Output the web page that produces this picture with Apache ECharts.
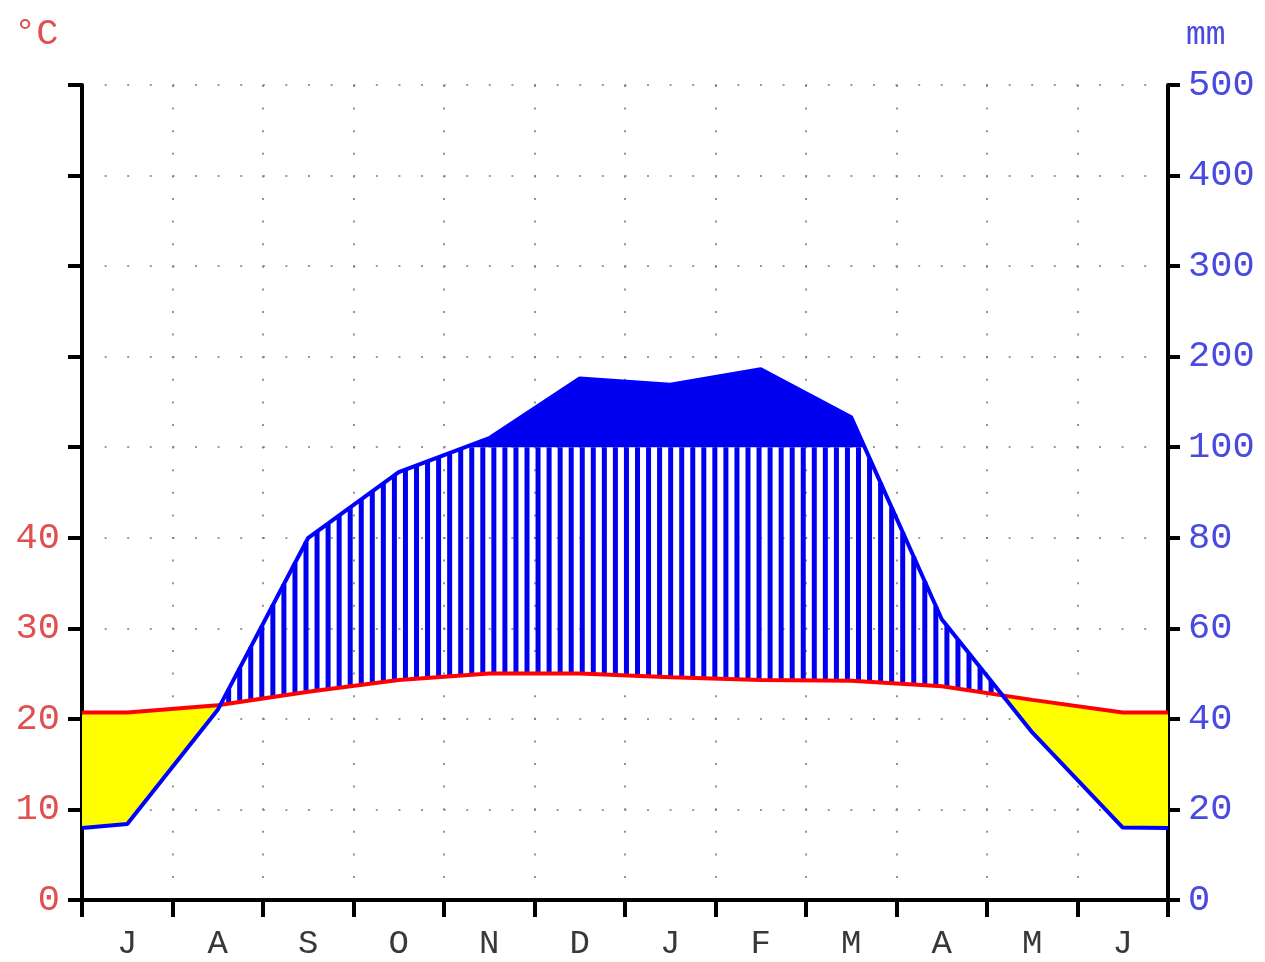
<!DOCTYPE html>
<html>
<head>
<meta charset="utf-8">
<script src="https://cdn.jsdelivr.net/npm/echarts@6/dist/echarts.min.js"></script>
<style>
html,body{margin:0;padding:0;background:#fff;}
#chart{width:1265px;height:962px;}
</style>
</head>
<body>
<div id="chart"></div>
<script>
// ---- data ----
const months = ['J','A','S','O','N','D','J','F','M','A','M','J'];
const temperature = [20.7, 21.5, 23.0, 24.3, 25.0, 25.0, 24.6, 24.3, 24.2, 23.6, 22.1, 20.7];
const precipitation = [16.8, 42, 80, 94.5, 110, 176, 169, 186, 133, 62, 37, 16];
const edgeTemperature = [20.7, 20.7];     // value at left and right border
const edgePrecipitation = [15.9, 15.9];   // value at left and right border
const tempTicks = [0, 10, 20, 30, 40];
const precipTicks = [0, 20, 40, 60, 80, 100, 200, 300, 400, 500];

// scale: 10 °C = 20 mm per grid unit up to 100 mm, then 100 mm per unit
function mmToUnit(p) { return p <= 100 ? p / 20 : 5 + (p - 100) / 100; }

const xPos = [0].concat(months.map((m, i) => i + 0.5), [12]);
const tAll = [edgeTemperature[0]].concat(temperature, [edgeTemperature[1]]);
const pAll = [edgePrecipitation[0]].concat(precipitation, [edgePrecipitation[1]]);
const tempSeries = xPos.map((x, i) => [x, tAll[i] / 10]);
const precSeries = xPos.map((x, i) => [x, mmToUnit(pAll[i])]);

function interp(pts, x) {
  for (let i = 0; i < pts.length - 1; i++) {
    const a = pts[i], b = pts[i + 1];
    if (x >= a[0] && x <= b[0]) {
      const f = b[0] === a[0] ? 0 : (x - a[0]) / (b[0] - a[0]);
      return a[1] + f * (b[1] - a[1]);
    }
  }
  return pts[pts.length - 1][1];
}

function renderFills(params, api) {
  const tp = tempSeries.map(d => api.coord(d));
  const pp = precSeries.map(d => api.coord(d));
  const y100 = api.coord([0, mmToUnit(100)])[1];
  const x0 = tp[0][0], x1 = tp[tp.length - 1][0];
  const children = [];
  function region(test, topFn, botFn, color) {
    let cur = null;
    const flush = () => {
      if (cur && cur.top.length > 1) {
        const pts = cur.top.concat(cur.bot.slice().reverse());
        children.push({type: 'polygon', shape: {points: pts}, style: {fill: color, stroke: null}});
      }
      cur = null;
    };
    for (let x = x0; ; x += 1) {
      const xx = Math.min(x, x1);
      const ry = interp(tp, xx), by = interp(pp, xx);
      if (test(ry, by)) {
        if (!cur) cur = {top: [], bot: []};
        cur.top.push([xx, topFn(ry, by)]);
        cur.bot.push([xx, botFn(ry, by)]);
      } else flush();
      if (xx >= x1) break;
    }
    flush();
  }
  // arid period (temperature above precipitation)
  region((ry, by) => by > ry, (ry, by) => ry, (ry, by) => by, '#ffff00');
  // very wet (> 100 mm)
  region((ry, by) => by < y100, (ry, by) => by, (ry, by) => y100, '#0000ee');
  // humid hatching
  for (let x = x0 + 3; x < x1; x += 11.05) {
    const ry = interp(tp, x), by = interp(pp, x);
    if (by < ry) {
      children.push({type: 'line', shape: {x1: x, y1: ry, x2: x, y2: Math.max(by, y100)},
        style: {stroke: '#0000ee', lineWidth: 5}});
    }
  }
  return {type: 'group', children: children};
}

const chart = echarts.init(document.getElementById('chart'), null, {renderer: 'canvas'});
const FONT = '"Liberation Mono", "DejaVu Sans Mono", monospace';
const dotted = {type: [2, 20.6], color: '#7a7a7a', width: 1.6};

chart.setOption({
  animation: false,
  backgroundColor: '#ffffff',
  grid: {left: 82, right: 97, top: 85, bottom: 62, containLabel: false},
  xAxis: [
    {
      type: 'value', min: 0, max: 12, interval: 1, position: 'bottom',
      axisLine: {show: true, lineStyle: {color: '#000', width: 4}},
      axisTick: {show: true, length: 17, lineStyle: {color: '#000', width: 4}},
      axisLabel: {show: false},
      splitLine: {show: true, lineStyle: dotted}
    },
    {
      type: 'category', data: months, position: 'bottom', boundaryGap: true,
      axisLine: {show: false}, axisTick: {show: false}, splitLine: {show: false},
      axisLabel: {show: true, margin: 27, color: '#383838', fontFamily: FONT, fontSize: 34}
    }
  ],
  yAxis: [
    {
      type: 'value', min: 0, max: 9, interval: 1, position: 'left',
      axisLine: {show: true, lineStyle: {color: '#000', width: 4}},
      axisTick: {show: true, length: 14, lineStyle: {color: '#000', width: 4}},
      axisLabel: {show: true, margin: 22, color: '#e05050', fontFamily: FONT, fontSize: 37,
        formatter: v => (tempTicks[v] !== undefined ? String(tempTicks[v]) : '')},
      splitLine: {show: true, lineStyle: dotted}
    },
    {
      type: 'value', min: 0, max: 9, interval: 1, position: 'right',
      axisLine: {show: true, lineStyle: {color: '#000', width: 4}},
      axisTick: {show: true, length: 12, lineStyle: {color: '#000', width: 4}},
      axisLabel: {show: true, margin: 20, color: '#4a4ae0', fontFamily: FONT, fontSize: 37,
        formatter: v => (precipTicks[v] !== undefined ? String(precipTicks[v]) : '')},
      splitLine: {show: false}
    }
  ],
  graphic: [
    {type: 'text', left: 14, top: 16, style: {text: '°C', fill: '#e05050', font: '37px ' + FONT}},
    {type: 'text', left: 1186, top: 19, style: {text: 'mm', fill: '#4a4ae0', font: '33px ' + FONT}}
  ],
  series: [
    {type: 'custom', xAxisIndex: 0, yAxisIndex: 0, data: [[0, 0]], renderItem: renderFills, z: 2, silent: true},
    {type: 'line', xAxisIndex: 0, yAxisIndex: 0, data: tempSeries, symbol: 'none',
      lineStyle: {color: '#ff0000', width: 4}, z: 3, silent: true},
    {type: 'line', xAxisIndex: 0, yAxisIndex: 0, data: precSeries, symbol: 'none',
      lineStyle: {color: '#0000ff', width: 4}, z: 4, silent: true}
  ]
});
</script>
</body>
</html>
